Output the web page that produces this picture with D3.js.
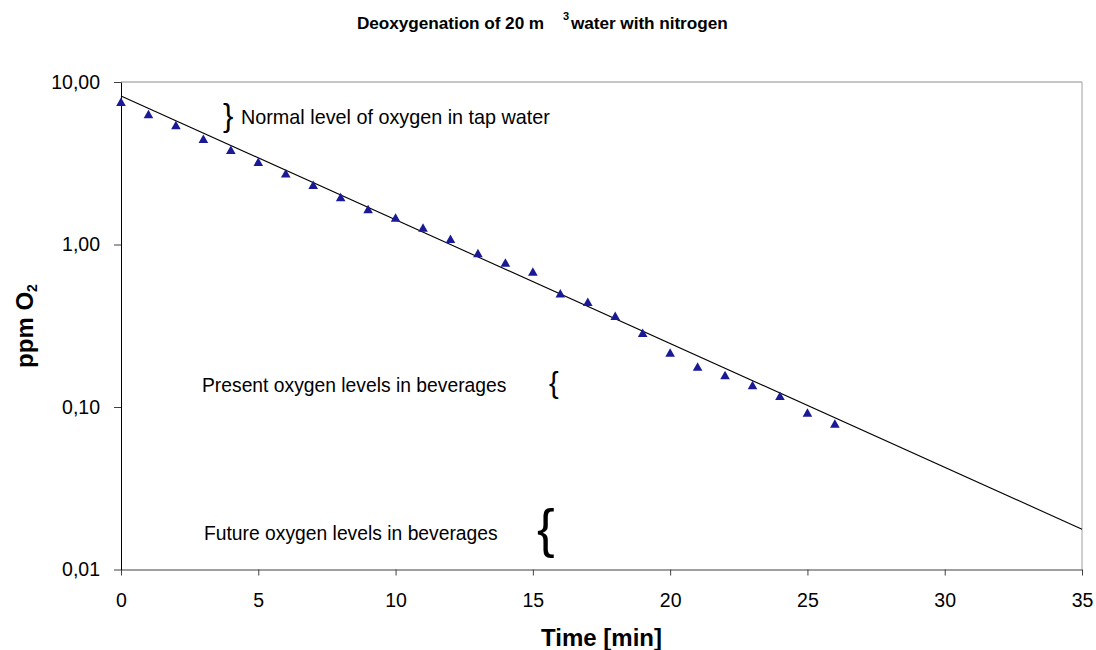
<!DOCTYPE html>
<html>
<head>
<meta charset="utf-8">
<script src="https://cdn.jsdelivr.net/npm/d3@7"></script>
<style>
  body { margin: 0; background: #fff; }
  svg { font-family: "Liberation Sans", Arial, sans-serif; }
</style>
</head>
<body>
<svg width="1096" height="650"></svg>
<script>
// measured oxygen, one reading per minute
var minutes = [0, 1, 2, 3, 4, 5, 6, 7, 8, 9, 10, 11, 12, 13, 14, 15, 16, 17, 18, 19, 20, 21, 22, 23, 24, 25, 26];
var ppm = [7.53, 6.33, 5.41, 4.46, 3.82, 3.22, 2.73, 2.32, 1.95, 1.65, 1.46, 1.27, 1.08, 0.883, 0.773, 0.68,
           0.50, 0.443, 0.363, 0.285, 0.216, 0.177, 0.157, 0.136, 0.117, 0.0923, 0.0789];

// exponential trendline (straight on log axis), end points
var trendMinutes = [0, 35];
var trendPpm = [8.2, 0.0177];

var xTicks = [0, 5, 10, 15, 20, 25, 30, 35];
var yTicks = [0.01, 0.1, 1, 10];

var notes = [
  {text: "Normal level of oxygen in tap water", brace: "}"},
  {text: "Present oxygen levels in beverages", brace: "{"},
  {text: "Future oxygen levels in beverages", brace: "{"}
];

var plotL = 121, plotR = 1082, plotT = 82, plotB = 569.5;

var svg = d3.select("svg");

var x = d3.scaleLinear().domain([0, 35]).range([plotL, plotR]);
var y = d3.scaleLog().domain([0.01, 10]).range([plotB, plotT]);

var fmt = function(d){ return d3.format(".2f")(d).replace(".", ","); };

// frame (top + right in grey)
svg.append("line").attr("x1", plotL).attr("x2", plotR).attr("y1", plotT).attr("y2", plotT)
   .attr("stroke", "#8c8c8c").attr("stroke-width", 1);
svg.append("line").attr("x1", plotR).attr("x2", plotR).attr("y1", plotT).attr("y2", plotB)
   .attr("stroke", "#a0a0a0").attr("stroke-width", 1);

var gx = svg.append("g").attr("transform", "translate(0," + plotB + ")")
  .call(d3.axisBottom(x).tickValues(xTicks).tickSize(6).tickSizeOuter(0).tickPadding(18));
gx.select(".domain").attr("stroke", "#404040");
gx.selectAll(".tick line").attr("stroke", "#404040");
gx.selectAll("text").attr("font-size", "19.5px").attr("fill", "#000")
  .attr("font-family", "Liberation Sans, Arial, sans-serif");

var gy = svg.append("g").attr("transform", "translate(" + plotL + ",0)")
  .call(d3.axisLeft(y).tickValues(yTicks).tickFormat(fmt).tickSize(7).tickSizeOuter(0).tickPadding(14));
gy.select(".domain").attr("stroke", "#000");
gy.selectAll(".tick line").attr("stroke", "#404040");
gy.selectAll("text").attr("font-size", "19.5px").attr("fill", "#000")
  .attr("font-family", "Liberation Sans, Arial, sans-serif");

// trendline
var trend = trendMinutes.map(function(m, i){ return {m: m, v: trendPpm[i]}; });
svg.append("path").datum(trend)
   .attr("fill", "none").attr("stroke", "#000").attr("stroke-width", 1.1)
   .attr("d", d3.line().x(function(d){ return x(d.m); }).y(function(d){ return y(d.v); }));

// triangles
svg.selectAll("path.pt")
  .data(minutes.map(function(m, i){ return {m: m, v: ppm[i]}; }))
  .enter()
  .append("path").attr("class", "pt")
  .attr("transform", function(d){ return "translate(" + x(d.m) + "," + y(d.v) + ")"; })
  .attr("d", "M0,-4.5L4.8,4L-4.8,4Z")
  .attr("fill", "#1a1a96");

// title
var title = svg.append("text").attr("y", 29)
  .attr("font-weight", "bold").attr("font-size", "17.2px").attr("letter-spacing", "-0.05");
title.append("tspan").attr("x", 357).text("Deoxygenation of 20 m");
title.append("tspan").attr("x", 563).attr("y", 20).attr("font-size", "11px").text("3");
title.append("tspan").attr("x", 571).attr("y", 29).text("water with nitrogen");

// axis titles
svg.append("text").attr("x", (plotL + plotR) / 2).attr("y", 646)
  .attr("text-anchor", "middle").attr("font-weight", "bold").attr("font-size", "24px")
  .text("Time [min]");

var yl = svg.append("text").attr("transform", "translate(33,326) rotate(-90)")
  .attr("text-anchor", "middle").attr("font-weight", "bold").attr("font-size", "24px");
yl.append("tspan").text("ppm O");
yl.append("tspan").attr("font-size", "14px").attr("dy", 4).text("2");

// annotations
var noteX = [241, 202, 204], noteY = [124, 392, 540];
var braceX = [223, 549, 537], braceY = [126, 393, 547], braceSize = [31, 29, 53];
var noteSize = [19.8, 19.3, 19.3];
notes.forEach(function(n, i){
  svg.append("text").attr("x", noteX[i]).attr("y", noteY[i])
     .attr("font-size", noteSize[i] + "px").text(n.text);
  svg.append("text").attr("x", braceX[i]).attr("y", braceY[i])
     .attr("font-size", braceSize[i] + "px").text(n.brace);
});
</script>
</body>
</html>
